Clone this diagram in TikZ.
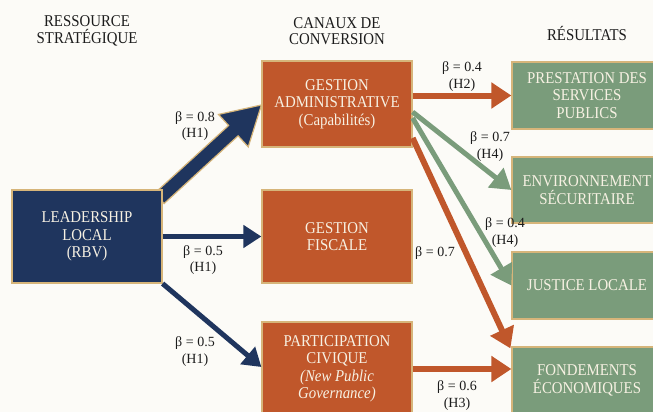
\documentclass[tikz,border=0pt]{standalone}
\usepackage{fontspec}
\setmainfont{Liberation Serif}
\newfontfamily\narrowserif{Liberation Serif}[FakeStretch=0.9]
\usetikzlibrary{arrows.meta,calc}
\definecolor{navy}{HTML}{1F355E}
\definecolor{rust}{HTML}{C0572B}
\definecolor{sage}{HTML}{7A9C7B}
\definecolor{gold}{HTML}{D6B57A}
\definecolor{paper}{HTML}{FCFBF7}
\definecolor{cream}{HTML}{F7F1E3}
\definecolor{ink}{HTML}{1C1C1C}

\begin{document}
\begin{tikzpicture}[x=1pt,y=-1pt,
		stdbox/.style={draw=gold, line width=1.2pt, minimum width=150pt, text=cream, align=center, inner sep=0pt, font=\narrowserif\fontsize{16.5}{17.5}\selectfont},
		leadbox/.style={stdbox, fill=navy, minimum height=93pt},
		chanbox/.style={stdbox, fill=rust},
		outbox/.style={stdbox, fill=sage, minimum height=67pt},
		colhead/.style={text=ink, align=center, font=\narrowserif\fontsize{16.5}{16.5}\selectfont},
		betalab/.style={text=ink, align=center, font=\fontsize{14}{16.5}\selectfont},
		bluearr/.style={navy, line width=5pt, -{Triangle[length=18pt,width=22pt]}},
		rustarr/.style={rust, line width=6pt, -{Triangle[length=20pt,width=25pt]}},
		sagearr/.style={sage, line width=5pt, -{Triangle[length=20pt,width=24pt]}}]
				\useasboundingbox (0,0) rectangle (653,412);
				\fill[paper] (0,0) rectangle (653,412);
				\clip (0,0) rectangle (653,412);
				
				% Column headings
				\node[colhead] (hres) at (87,31) {RESSOURCE\\STRATÉGIQUE};
				\node[colhead] (hcan) at (337,31) {CANAUX DE\\CONVERSION};
				\node[colhead] (hres2) at (587,33) {RÉSULTATS};
				
				% Boxes
				\node[chanbox, minimum height=86pt] (admin) at (337,104) {GESTION\\ADMINISTRATIVE\\(Capabilités)};
				\node[chanbox, minimum height=93pt] (fisc) at (337,236.5) {GESTION\\FISCALE};
				\node[chanbox, minimum height=94pt] (part) at (337,369) {PARTICIPATION\\CIVIQUE\\\textit{(New Public}\\\textit{Governance)}};
				
				\node[outbox] (prest) at (587,95.5) {PRESTATION DES\\SERVICES\\PUBLICS};
				\node[outbox, minimum height=66pt] (envi) at (587,190) {ENVIRONNEMENT\\SÉCURITAIRE};
				\node[outbox] (just) at (587,285.5) {JUSTICE LOCALE};
				\node[outbox] (fond) at (587,380.5) {FONDEMENTS\\ÉCONOMIQUES};
				
				% Big arrow (H1, 0.8)
				\coordinate (s) at ($(fisc.north west)+(-102,9)$);
				\coordinate (t) at ($(admin.west)+(0,1)$);
				\coordinate (h) at ($(t)!38pt!(s)$);
				\filldraw[fill=navy, draw=gold, line width=1.2pt]
					($(s)!7pt!90:(t)$) -- ($(h)!7pt!90:(t)$) -- ($(h)!22pt!90:(t)$) -- (t)
					-- ($(h)!22pt!-90:(t)$) -- ($(h)!7pt!-90:(t)$) -- ($(s)!7pt!-90:(t)$) -- cycle;
				
				\node[leadbox] (leader) at (87,236.5) {LEADERSHIP\\LOCAL\\(RBV)};
				
				% Other arrows
				\draw[bluearr] (leader.east) -- (fisc.west);
				\draw[bluearr] (leader.south east) -- ($(part.west)+(0,-2)$);
				
				\draw[rustarr] (admin.east |- prest.west) -- (prest.west);
				\draw[sagearr] ($(admin.east)+(0,8)$) -- (envi.west);
				\draw[sagearr] ($(admin.east)+(0,14)$) -- (just.west);
				\draw[rustarr] ($(admin.east)+(0,34)$) -- ($(fond.north west)+(-1,2)$);
				\draw[rustarr] (part.east) -- (part.east -| fond.west);
				
				% Labels
				\node[betalab] (l1) at (195,126) {β = 0.8\\(H1)};
				\node[betalab] (l2) at (203,260) {β = 0.5\\(H1)};
				\node[betalab] (l3) at (195,351.5) {β = 0.5\\(H1)};
				\node[betalab] (l4) at (462,76.5) {β = 0.4\\(H2)};
				\node[betalab] (l5) at (490,146.5) {β = 0.7\\(H4)};
				\node[betalab] (l6) at (505,232.5) {β = 0.4\\(H4)};
				\node[betalab] (l7) at (435,253) {β = 0.7};
				\node[betalab] (l8) at (457,395.5) {β = 0.6\\(H3)};
			\end{tikzpicture}
\end{document}
